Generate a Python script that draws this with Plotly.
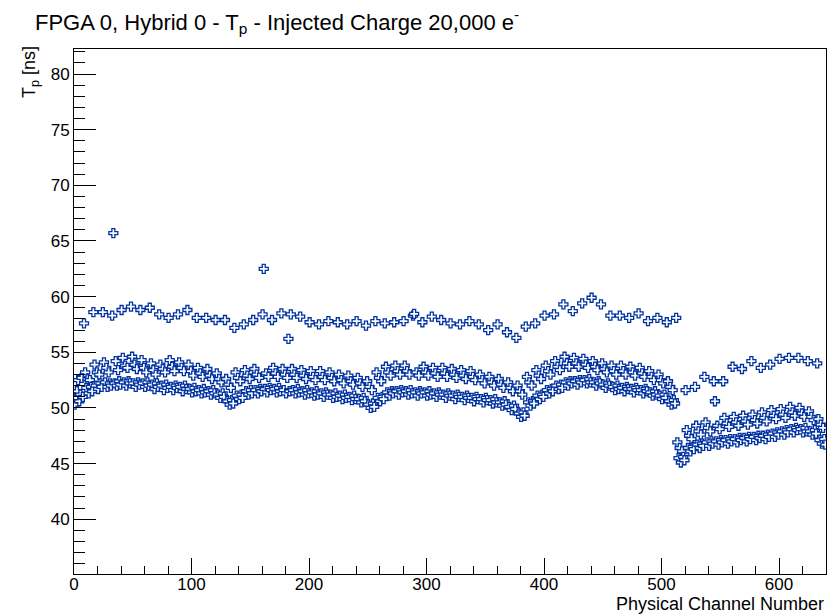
import plotly.graph_objects as go

# Rise time T_p per physical channel, listed in rows of 8 consecutive channels
rows = [
    [50.3, 50.9, 51.5, 52.5, 50.6, 51.2, 52.7, 51.0],
    [57.6, 53.2, 51.8, 52.6, 51.3, 52.5, 51.9, 51.5],
    [58.6, 53.9, 52.0, 53.2, 51.7, 53.0, 52.2, 51.9],
    [58.6, 54.1, 52.3, 53.6, 51.9, 53.2, 52.2, 52.0],
    [58.3, 65.7, 52.2, 54.2, 52.0, 53.4, 52.4, 52.1],
    [58.8, 54.5, 52.3, 53.8, 52.0, 53.6, 52.4, 52.2],
    [59.1, 54.6, 52.2, 53.9, 51.9, 53.5, 52.3, 52.1],
    [58.8, 54.3, 52.2, 53.6, 51.9, 53.2, 52.3, 52.0],
    [59.0, 54.0, 52.1, 53.4, 51.7, 53.0, 52.2, 51.9],
    [58.4, 53.9, 52.0, 53.5, 51.6, 53.2, 52.1, 51.8],
    [58.1, 54.3, 51.9, 53.7, 51.6, 53.3, 52.0, 51.8],
    [58.4, 54.1, 51.9, 53.6, 51.5, 53.3, 52.0, 51.7],
    [58.8, 53.9, 51.7, 53.3, 51.4, 52.9, 51.8, 51.5],
    [58.1, 53.6, 51.6, 53.1, 51.3, 52.8, 51.7, 51.4],
    [58.1, 53.5, 51.5, 52.9, 51.2, 52.6, 51.6, 51.3],
    [57.9, 53.1, 51.2, 52.6, 50.9, 52.3, 51.3, 51.0],
    [57.9, 52.6, 50.6, 52.1, 50.3, 51.8, 50.7, 50.4],
    [57.2, 53.2, 51.1, 52.7, 50.8, 52.4, 51.2, 50.9],
    [57.5, 53.4, 51.5, 52.9, 51.2, 52.6, 51.6, 51.3],
    [57.9, 53.5, 51.6, 53.0, 51.3, 52.7, 51.7, 51.5],
    [58.4, 62.5, 51.7, 53.1, 51.4, 52.8, 51.8, 51.6],
    [57.9, 53.6, 51.7, 53.1, 51.4, 52.8, 51.8, 51.5],
    [58.5, 53.5, 51.6, 53.0, 51.3, 52.7, 56.2, 51.5],
    [58.4, 53.5, 51.6, 53.0, 51.3, 52.7, 51.7, 51.4],
    [58.2, 53.4, 51.5, 52.9, 51.2, 52.6, 51.6, 51.3],
    [57.7, 53.3, 51.4, 52.8, 51.1, 52.5, 51.5, 51.2],
    [57.5, 53.3, 51.3, 52.8, 51.0, 52.5, 51.4, 51.2],
    [57.8, 53.2, 51.2, 52.7, 50.9, 52.4, 51.3, 51.0],
    [57.7, 53.0, 51.1, 52.5, 50.8, 52.2, 51.2, 50.9],
    [57.5, 52.9, 51.0, 52.4, 50.7, 52.1, 51.1, 50.8],
    [57.8, 52.7, 50.8, 52.2, 50.5, 51.9, 50.9, 50.6],
    [57.4, 52.4, 50.3, 51.9, 50.0, 51.6, 50.4, 50.1],
    [57.8, 53.2, 50.9, 52.7, 50.6, 52.4, 51.0, 50.8],
    [57.6, 53.7, 51.4, 53.2, 51.1, 52.9, 51.5, 51.3],
    [57.7, 53.8, 51.5, 53.3, 51.2, 53.0, 51.6, 51.4],
    [57.8, 53.8, 51.5, 53.3, 51.2, 53.0, 51.6, 51.3],
    [58.3, 58.45, 51.4, 53.2, 51.1, 52.9, 51.5, 51.3],
    [57.7, 53.7, 51.4, 53.2, 51.1, 52.9, 51.5, 51.2],
    [58.2, 53.6, 51.3, 53.1, 51.0, 52.8, 51.4, 51.2],
    [57.9, 53.6, 51.2, 53.1, 50.9, 52.8, 51.3, 51.1],
    [57.6, 53.5, 51.1, 53.0, 50.8, 52.7, 51.2, 51.0],
    [57.5, 53.4, 51.0, 52.9, 50.7, 52.6, 51.1, 50.9],
    [57.8, 53.3, 50.9, 52.8, 50.6, 52.5, 51.0, 50.8],
    [57.5, 53.0, 50.8, 52.5, 50.5, 52.2, 50.9, 50.7],
    [57.0, 52.8, 50.7, 52.3, 50.4, 52.0, 50.8, 50.5],
    [57.5, 52.6, 50.5, 52.1, 50.2, 51.8, 50.6, 50.3],
    [56.8, 52.3, 50.1, 51.8, 49.8, 51.5, 50.2, 49.9],
    [56.3, 52.0, 49.5, 51.5, 49.2, 51.2, 49.6, 49.3],
    [57.3, 52.8, 50.5, 52.3, 50.2, 52.0, 50.6, 50.4],
    [57.6, 53.4, 51.1, 52.9, 50.8, 52.6, 51.2, 51.0],
    [58.3, 53.8, 51.6, 53.3, 51.3, 53.0, 51.7, 51.5],
    [58.4, 54.2, 52.0, 53.7, 51.7, 53.4, 52.1, 51.8],
    [59.3, 54.6, 52.3, 54.0, 52.0, 53.7, 52.4, 52.2],
    [58.7, 54.5, 52.4, 54.0, 52.1, 53.7, 52.5, 52.3],
    [59.4, 54.4, 52.5, 53.9, 52.2, 53.6, 52.6, 52.3],
    [59.9, 54.2, 52.3, 53.7, 52.0, 53.4, 52.4, 52.2],
    [59.3, 54.0, 52.1, 53.5, 51.8, 53.2, 52.2, 52.0],
    [58.3, 53.8, 51.9, 53.3, 51.6, 53.0, 52.0, 51.7],
    [58.3, 53.8, 51.8, 53.3, 51.5, 53.0, 51.9, 51.7],
    [58.1, 53.7, 51.7, 53.2, 51.4, 52.9, 51.8, 51.6],
    [58.5, 53.6, 51.6, 53.1, 51.3, 52.8, 51.7, 51.5],
    [57.8, 53.3, 51.4, 52.8, 51.1, 52.5, 51.5, 51.2],
    [58.1, 53.0, 51.1, 52.5, 50.8, 52.2, 51.2, 50.9],
    [57.7, 52.4, 50.6, 51.9, 50.3, 51.6, 50.7, 50.4],
    [58.1, 46.9, 45.5, 46.4, 45.1, 46.1, 45.6, 45.3],
    [51.6, 48.0, 46.4, 47.5, 46.1, 47.2, 46.5, 46.3],
    [51.9, 48.4, 46.7, 47.9, 46.4, 47.6, 46.8, 46.6],
    [52.8, 48.7, 46.9, 48.2, 46.6, 47.9, 47.0, 46.8],
    [52.4, 50.6, 47.0, 48.4, 46.7, 48.1, 47.1, 46.9],
    [52.4, 49.1, 47.1, 48.6, 46.8, 48.3, 47.2, 47.0],
    [53.7, 49.2, 47.2, 48.7, 46.9, 48.4, 47.3, 47.1],
    [53.5, 49.3, 47.3, 48.8, 47.0, 48.5, 47.4, 47.2],
    [54.2, 49.4, 47.4, 48.9, 47.1, 48.6, 47.5, 47.3],
    [53.6, 49.6, 47.5, 49.1, 47.2, 48.8, 47.6, 47.4],
    [53.9, 49.8, 47.7, 49.3, 47.4, 49.0, 47.8, 47.6],
    [54.4, 49.9, 47.9, 49.4, 47.6, 49.1, 48.0, 47.8],
    [54.5, 50.1, 48.1, 49.6, 47.8, 49.3, 48.2, 48.0],
    [54.5, 50.0, 48.1, 49.5, 47.8, 49.2, 48.2, 47.9],
    [54.2, 49.7, 47.9, 49.2, 47.6, 48.9, 48.0, 47.7],
    [54.0, 49.0, 47.1, 48.5, 46.8, 48.2, 47.2, 46.7],
]

channels = [r * 8 + c for r in range(len(rows)) for c in range(8)]
tp_values = [v for row in rows for v in row]

title_text = "FPGA 0, Hybrid 0 - T<sub>p</sub> - Injected Charge 20,000 e<sup>-</sup>"
x_title = "Physical Channel Number"
y_title = "T<sub>p</sub> [ns]"

blue = "rgb(0,50,160)"
font = "Liberation Sans, Arial, sans-serif"

fig = go.Figure()
fig.add_trace(go.Scatter(
    x=[c + 0.5 for c in channels], y=tp_values, mode="markers",
    marker=dict(symbol="cross", size=7.5, color="white",
                line=dict(color=blue, width=1.3)),
    showlegend=False, cliponaxis=True,
))

fig.update_layout(
    width=839, height=614,
    margin=dict(l=74, r=13, t=49, b=40),
    paper_bgcolor="white", plot_bgcolor="white",
    font=dict(family=font, size=17, color="black"),
    title=dict(text=title_text, xref="container", yref="container",
               x=35 / 839, xanchor="left", y=1 - 22 / 614, yanchor="middle",
               font=dict(size=22, family=font, color="black")),
    xaxis=dict(range=[0, 640], showgrid=False, zeroline=False,
               showline=True, linecolor="black", linewidth=1, mirror=True,
               ticks="inside", ticklen=16, tickwidth=1, tickcolor="black",
               tick0=0, dtick=100, ticklabelstandoff=-5,
               minor=dict(ticks="inside", ticklen=8, dtick=20, tick0=0,
                          tickcolor="black", showgrid=False),
               tickfont=dict(size=17)),
    yaxis=dict(range=[35.08, 82.25], showgrid=False, zeroline=False,
               showline=True, linecolor="black", linewidth=1, mirror=True,
               ticks="inside", ticklen=22, tickwidth=1, tickcolor="black",
               tick0=0, dtick=5,
               minor=dict(ticks="inside", ticklen=11, dtick=1, tick0=0,
                          tickcolor="black", showgrid=False),
               tickfont=dict(size=17)),
    annotations=[
        dict(text=x_title, xref="paper", yref="paper", x=1, y=-0.058,
             xanchor="right", yanchor="middle", showarrow=False,
             font=dict(size=18, family=font, color="black")),
        dict(text=y_title, xref="paper", yref="paper", x=-0.058, y=0.957,
             xanchor="center", yanchor="middle", textangle=-90, showarrow=False,
             font=dict(size=18, family=font, color="black")),
    ],
)

fig.write_html("out.html")
